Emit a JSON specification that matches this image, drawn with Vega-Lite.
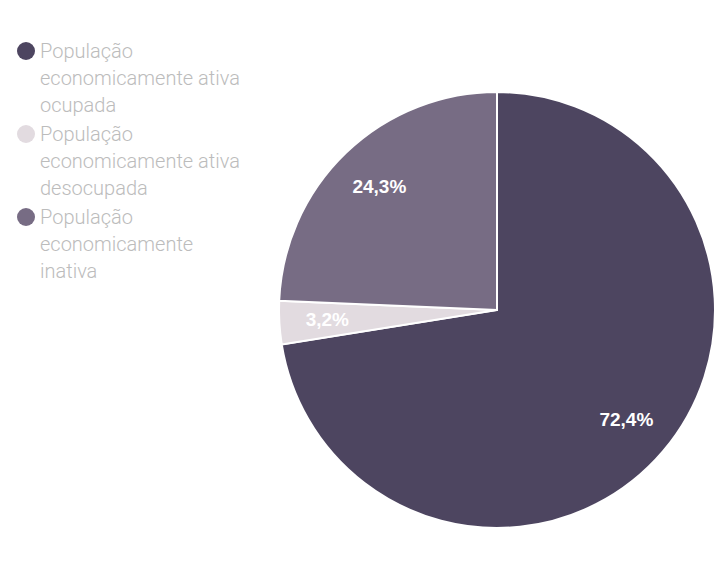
{
  "$schema": "https://vega.github.io/schema/vega-lite/v6.json",
  "width": 436,
  "height": 436,
  "autosize": {"type": "none"},
  "padding": {"left": 279, "top": 92, "right": 3, "bottom": 35},
  "background": "white",
  "data": {
    "values": [
      {"categoria": "População|economicamente ativa|ocupada", "valor": 72.4, "rotulo": "72,4%", "ordem": 1},
      {"categoria": "População|economicamente ativa|desocupada", "valor": 3.2, "rotulo": "3,2%", "ordem": 2},
      {"categoria": "População|economicamente|inativa", "valor": 24.3, "rotulo": "24,3%", "ordem": 3}
    ]
  },
  "encoding": {
    "theta": {"field": "valor", "type": "quantitative", "stack": true},
    "order": {"field": "ordem", "type": "quantitative"},
    "color": {
      "field": "categoria",
      "type": "nominal",
      "scale": {
        "domain": ["População|economicamente ativa|ocupada", "População|economicamente ativa|desocupada", "População|economicamente|inativa"],
        "range": ["#4d4560", "#e2dbe0", "#776c84"]
      },
      "legend": {
        "orient": "none",
        "legendX": -263,
        "legendY": -51,
        "title": null,
        "padding": 0,
        "labelExpr": "split(datum.label, '|')",
        "labelFontSize": 20,
        "labelColor": "#bcbcbc",
        "labelFont": "Roboto",
        "labelFontWeight": 300,
        "labelLimit": 0,
        "labelBaseline": "alphabetic",
        "labelOffset": 4,
        "symbolType": "circle",
        "symbolSize": 324,
        "symbolStrokeWidth": 0,
        "rowPadding": 8
      }
    }
  },
  "layer": [
    {"mark": {"type": "arc", "stroke": "white", "strokeWidth": 2}},
    {
      "mark": {"type": "text", "radius": 170, "fontSize": 19, "fontWeight": "bold", "font": "Liberation Sans"},
      "encoding": {"text": {"field": "rotulo"}, "color": {"value": "white"}}
    }
  ],
  "config": {
    "view": {"stroke": null},
    "style": {"guide-label": {"lineHeight": 27, "dy": 7}}
  }
}
